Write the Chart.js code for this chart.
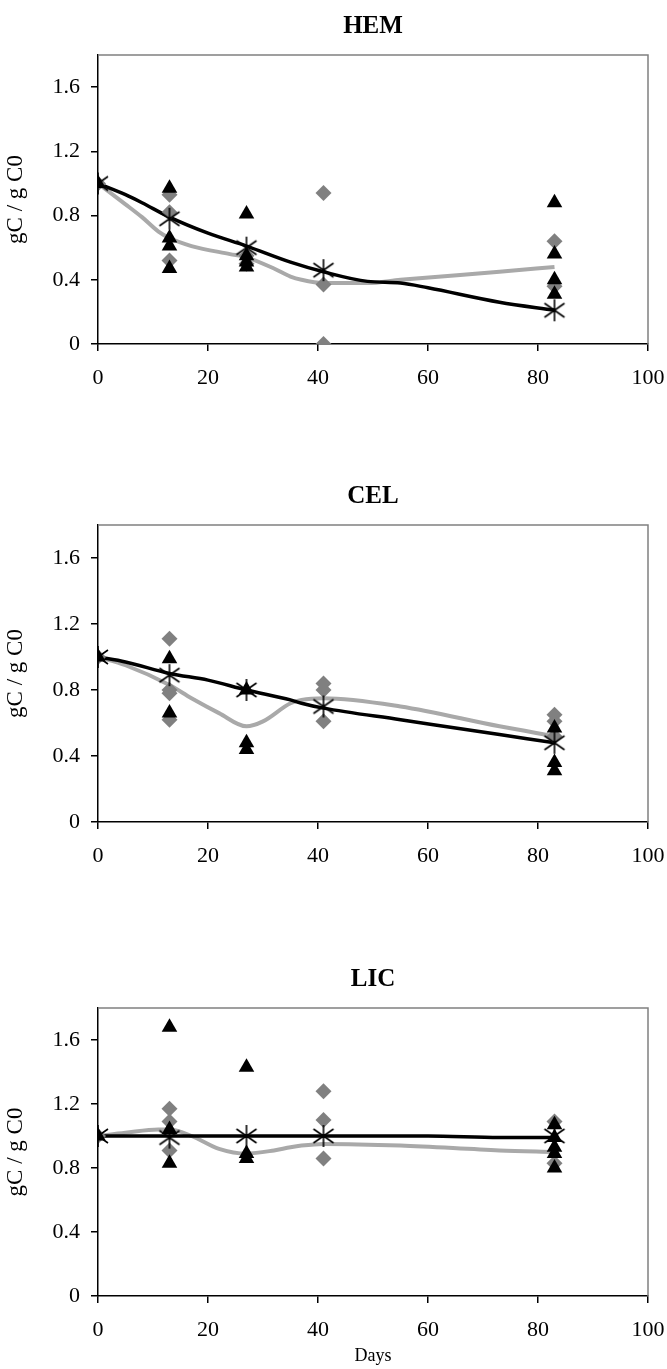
<!DOCTYPE html>
<html><head><meta charset="utf-8">
<script src="https://cdn.jsdelivr.net/npm/chart.js@4.4.1/dist/chart.umd.min.js"></script>
<style>
html,body{margin:0;padding:0;background:#fff;width:667px;height:1369px;overflow:hidden}
.p{position:absolute;left:0;width:667px}
canvas{display:block}
</style></head><body>
<div class="p" style="top:0"><canvas id="c1" width="667" height="410"></canvas></div>
<div class="p" style="top:470px"><canvas id="c2" width="667" height="418"></canvas></div>
<div class="p" style="top:953px"><canvas id="c3" width="667" height="416"></canvas></div>
<script>
// sampling days and axis ticks
const sampleDays = [0, 13, 27, 41, 83];
const xTicks = [0, 20, 40, 60, 80, 100];
const yTicks = [0, 0.4, 0.8, 1.2, 1.6];
const panelTitles = ['HEM', 'CEL', 'LIC'];

// HEM
const hemDiaX = [0, 13, 13, 13, 27, 27, 41, 41, 41, 83, 83];
const hemDiaY = [1.00, 0.93, 0.82, 0.52, 0.55, 0.50, 0.94, 0.37, 0.00, 0.64, 0.36];
const hemTriX = [0, 13, 13, 13, 13, 27, 27, 27, 27, 83, 83, 83, 83];
const hemTriY = [1.00, 0.97, 0.66, 0.61, 0.47, 0.81, 0.55, 0.51, 0.48, 0.88, 0.56, 0.40, 0.31];
const hemStarY = [1.00, 0.78, 0.60, 0.46, 0.21];
const hemFitX = [0, 5, 8, 13, 20, 27, 35, 41, 49, 55, 60, 73, 83];
const hemFitY = [1.00, 0.93, 0.88, 0.79, 0.69, 0.61, 0.51, 0.45, 0.39, 0.38, 0.35, 0.26, 0.21];
const hemModX = [0, 5, 8, 11, 13, 17, 24, 27, 32, 35, 37, 41, 49, 55, 73, 83];
const hemModY = [1.00, 0.87, 0.79, 0.70, 0.66, 0.61, 0.56, 0.54, 0.47, 0.42, 0.40, 0.38, 0.38, 0.40, 0.45, 0.48];

// CEL
const celDiaX = [0, 13, 13, 13, 13, 41, 41, 41, 83, 83, 83];
const celDiaY = [1.00, 1.11, 0.80, 0.78, 0.62, 0.84, 0.80, 0.61, 0.65, 0.61, 0.52];
const celTriX = [0, 13, 13, 27, 27, 27, 83, 83, 83];
const celTriY = [1.00, 0.99, 0.66, 0.80, 0.48, 0.44, 0.57, 0.36, 0.31];
const celStarY = [1.00, 0.89, 0.80, 0.70, 0.48];
const celFitX = [0, 5, 13, 20, 27, 35, 37, 41, 55, 73, 83];
const celFitY = [1.00, 0.97, 0.90, 0.86, 0.80, 0.74, 0.72, 0.69, 0.62, 0.53, 0.48];
const celModX = [0, 5, 13, 17, 22, 27, 30, 35, 37, 41, 55, 73, 83];
const celModY = [1.00, 0.95, 0.83, 0.75, 0.66, 0.58, 0.61, 0.72, 0.74, 0.75, 0.70, 0.58, 0.52];

// LIC
const licDiaX = [0, 13, 13, 13, 41, 41, 41, 83, 83];
const licDiaY = [1.00, 1.17, 1.09, 0.91, 1.28, 1.10, 0.86, 1.09, 0.83];
const licTriX = [0, 13, 13, 13, 27, 27, 27, 83, 83, 83, 83, 83];
const licTriY = [1.00, 1.68, 1.04, 0.83, 1.43, 0.89, 0.86, 1.07, 0.99, 0.93, 0.89, 0.80];
const licStarY = [1.00, 0.99, 1.00, 1.00, 1.00];
const licFitX = [0, 41, 60, 73, 83];
const licFitY = [1.00, 1.00, 1.00, 0.99, 0.99];
const licModX = [0, 5, 11, 13, 17, 22, 27, 32, 35, 37, 41, 55, 73, 83];
const licModY = [1.00, 1.02, 1.04, 1.04, 1.00, 0.92, 0.89, 0.91, 0.93, 0.94, 0.95, 0.94, 0.91, 0.90];

const pts = (xs, ys) => xs.map((x, i) => ({x: x, y: ys[i]}));

// asterisk marker
function makeStar() {
  const c = document.createElement('canvas');
  c.width = 24; c.height = 24;
  const g = c.getContext('2d');
  g.strokeStyle = '#000'; g.lineWidth = 1.6;
  g.beginPath();
  g.moveTo(12, 1); g.lineTo(12, 23);
  g.moveTo(2, 5); g.lineTo(22, 19);
  g.moveTo(22, 5); g.lineTo(2, 19);
  g.stroke();
  return c;
}
const starImg = makeStar();

const SERIF = '"Liberation Serif", "Times New Roman", serif';

const framePlugin = {
  id: 'frame',
  beforeDatasetsDraw(chart) {
    const a = chart.chartArea, ctx = chart.ctx;
    ctx.save();
    ctx.strokeStyle = '#808080'; ctx.lineWidth = 1.5;
    ctx.beginPath();
    ctx.moveTo(a.left, a.top); ctx.lineTo(a.right, a.top); ctx.lineTo(a.right, a.bottom);
    ctx.stroke();
    ctx.restore();
  },
  afterDraw(chart) {
    const a = chart.chartArea, ctx = chart.ctx;
    ctx.save();
    ctx.fillStyle = '#000';
    ctx.font = 'bold 25px ' + SERIF;
    ctx.textAlign = 'center'; ctx.textBaseline = 'alphabetic';
    ctx.fillText(chart.options.plugins.frame.title, (a.left + a.right) / 2, a.top - 22);
    ctx.restore();
  }
};

function build(id, title, diaX, diaY, triX, triY, starY, fitX, fitY, modX, modY, axisH, showDays) {
  const ctx = document.getElementById(id);
  return new Chart(ctx, {
    type: 'scatter',
    data: {
      datasets: [
        {data: pts(sampleDays, starY), pointStyle: starImg, pointRadius: 11, showLine: false},
        {data: pts(triX, triY), pointStyle: 'triangle', pointRadius: 9, backgroundColor: '#000', borderColor: '#000', borderWidth: 0, showLine: false},
        {data: pts(diaX, diaY), pointStyle: 'rectRot', pointRadius: 8, backgroundColor: '#808080', borderColor: '#808080', borderWidth: 0, showLine: false},
        {data: pts(fitX, fitY), showLine: true, pointRadius: 0, borderColor: '#000', borderWidth: 3.5, cubicInterpolationMode: 'monotone', fill: false},
        {data: pts(modX, modY), showLine: true, pointRadius: 0, borderColor: '#a9a9a9', borderWidth: 4, cubicInterpolationMode: 'monotone', fill: false}
      ]
    },
    options: {
      responsive: false, animation: false,
      layout: {padding: {top: 55, right: 19, left: 0, bottom: 0}},
      plugins: {legend: {display: false}, tooltip: {enabled: false}, title: {display: false}, frame: {title: title}},
      scales: {
        x: {
          type: 'linear', min: 0, max: 100,
          afterBuildTicks: s => { s.ticks = xTicks.map(v => ({value: v})); },
          afterFit: s => { s.height = axisH; s.paddingLeft = 0; s.paddingRight = 0; },
          ticks: {color: '#000', font: {family: SERIF, size: 22}, padding: 14, maxRotation: 0},
          grid: {drawOnChartArea: false, drawTicks: true, tickLength: 7, color: '#000', lineWidth: 1.5},
          border: {color: '#000', width: 1.5},
          title: {display: showDays, text: 'Days', color: '#000', font: {family: SERIF, size: 18}, padding: {top: 0, bottom: 2}}
        },
        y: {
          type: 'linear', min: 0, max: 1.8,
          afterBuildTicks: s => { s.ticks = yTicks.map(v => ({value: v})); },
          afterFit: s => { s.width = 98; s.paddingTop = 0; s.paddingBottom = 0; },
          ticks: {color: '#000', font: {family: SERIF, size: 22}, padding: 11, callback: v => String(Math.round(v * 10) / 10)},
          grid: {drawOnChartArea: false, drawTicks: true, tickLength: 7, color: '#000', lineWidth: 1.5},
          border: {color: '#000', width: 1.5},
          title: {display: true, text: 'gC / g C0', color: '#000', font: {family: SERIF, size: 23}, padding: {top: 2, bottom: 0}}
        }
      }
    },
    plugins: [framePlugin]
  });
}

build('c1', panelTitles[0], hemDiaX, hemDiaY, hemTriX, hemTriY, hemStarY, hemFitX, hemFitY, hemModX, hemModY, 66, false);
build('c2', panelTitles[1], celDiaX, celDiaY, celTriX, celTriY, celStarY, celFitX, celFitY, celModX, celModY, 66, false);
build('c3', panelTitles[2], licDiaX, licDiaY, licTriX, licTriY, licStarY, licFitX, licFitY, licModX, licModY, 73, true);
</script>
</body></html>
